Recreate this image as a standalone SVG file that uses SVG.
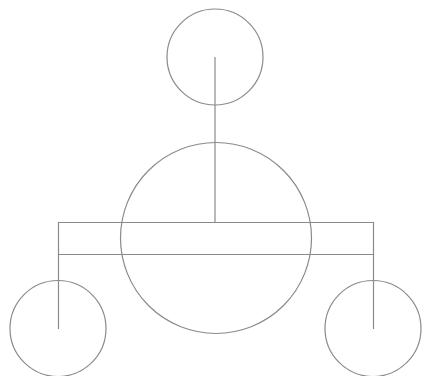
<svg xmlns="http://www.w3.org/2000/svg" width="423" height="376" viewBox="0 0 423 376">
<style>
.n{fill:none;stroke:#8a8a8a;stroke-width:1.2}
.c{fill:none;stroke:#8a8a8a;stroke-width:1.2}
</style>
<rect width="423" height="376" fill="#fff"/>
<g id="top"><circle class="n" cx="215" cy="57" r="48"/></g>
<g id="center"><circle class="n" cx="216" cy="238" r="95.5"/></g>
<g id="left"><circle class="n" cx="58" cy="328.5" r="48"/></g>
<g id="right"><circle class="n" cx="373" cy="328.5" r="48"/></g>
<g id="connectors">
<path class="c" d="M215 57V222"/>
<path class="c" d="M58.5 329V222.5H373.5V329"/>
<path class="c" d="M58.5 254.5H373.5"/>
</g>
</svg>
